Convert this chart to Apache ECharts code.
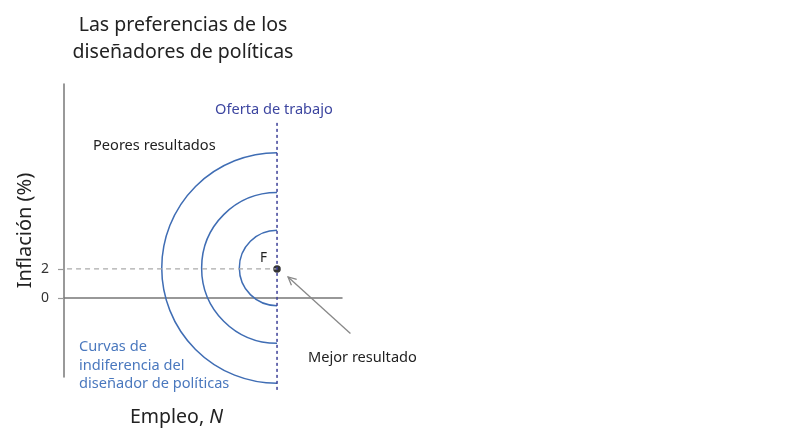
<!DOCTYPE html>
<html>
<head>
<meta charset="utf-8">
<script src="https://cdn.jsdelivr.net/npm/echarts@6/dist/echarts.min.js"></script>
<style>html,body{margin:0;padding:0;background:#fff}#c{width:810px;height:445px}</style>
</head>
<body>
<div id="c"></div>
<script>
// ---- data ----
const yTickValues = [0, 2];
const xRange = [0, 19.17];
const yRange = [-5.45, 14.75];
const fullEmployment = 14.69;      // labour supply position (F)
const targetInflation = 2;          // inflation target
const curveRadii = [2.6, 5.2, 7.95];
const supplyLine = [[14.69, 12.07], [14.69, -6.41]];
const targetLine = [[-0.41, 2], [14.69, 2]];
const pointF = [[14.69, 2]];
const arrowFrom = [19.75, -2.45];
const arrowTo = [15.45, 1.45];

const FONT = '"Noto Sans", "Open Sans", sans-serif';
const chart = echarts.init(document.getElementById('c'), null, {renderer: 'canvas'});

chart.setOption({
  animation: false,
  backgroundColor: '#fff',
  title: {
    text: 'Las preferencias de los\ndiseñadores de políticas',
    left: 178, top: 7, textAlign: 'center',
    textStyle: {fontFamily: FONT, fontSize: 19.5, fontWeight: 'normal', color: '#222', lineHeight: 27}
  },
  grid: {left: 64, top: 84, width: 278, height: 293},
  xAxis: {
    type: 'value', min: xRange[0], max: xRange[1],
    axisLine: {show: true, onZero: true, lineStyle: {color: '#777', width: 1.5}},
    axisTick: {show: false}, axisLabel: {show: false}, splitLine: {show: false}
  },
  yAxis: {
    type: 'value', min: yRange[0], max: yRange[1],
    name: 'Inflación (%)', nameLocation: 'middle', nameGap: 29,
    nameTextStyle: {fontFamily: FONT, fontSize: 20, color: '#222'},
    axisLine: {show: true, lineStyle: {color: '#777', width: 1.5}},
    axisTick: {show: true, length: 6, customValues: yTickValues, lineStyle: {color: '#999', width: 1.2}},
    axisLabel: {show: true, customValues: yTickValues, margin: 15, fontFamily: FONT, fontSize: 14, color: '#333'},
    splitLine: {show: false}
  },
  graphic: [
    {type: 'text', left: 215, top: 102, style: {text: 'Oferta de trabajo', fontFamily: FONT, fontSize: 14.6, fill: '#3d46a0'}},
    {type: 'text', left: 93, top: 138, style: {text: 'Peores resultados', fontFamily: FONT, fontSize: 14.6, fill: '#222'}},
    {type: 'text', left: 260, top: 251, style: {text: 'F', fontFamily: FONT, fontSize: 13.5, fill: '#222'}},
    {type: 'text', left: 308, top: 350, style: {text: 'Mejor resultado', fontFamily: FONT, fontSize: 14.6, fill: '#222'}},
    {type: 'text', left: 79, top: 338, style: {text: 'Curvas de\nindiferencia del\ndiseñador de políticas', fontFamily: FONT, fontSize: 14.6, lineHeight: 18.5, fill: '#4a78be'}},
    {type: 'text', left: 130, top: 407, style: {
      text: '{a|Empleo, }{b|N}',
      rich: {a: {fontFamily: FONT, fontSize: 19.5, fill: '#222'}, b: {fontFamily: FONT, fontSize: 19.5, fontStyle: 'italic', fill: '#222'}}
    }}
  ],
  series: [
    {
      type: 'line', data: targetLine, clip: false, symbol: 'none', silent: true,
      lineStyle: {color: '#aaa', width: 1.2, type: [5, 4]}
    },
    {
      type: 'custom', clip: false, silent: true,
      data: curveRadii.map(r => [fullEmployment, targetInflation, r]),
      renderItem: function (params, api) {
        const c = api.coord([api.value(0), api.value(1)]);
        const r = api.size([api.value(2), 0])[0];
        return {
          type: 'arc',
          shape: {cx: c[0], cy: c[1] - 1, r: r, startAngle: Math.PI / 2, endAngle: Math.PI * 3 / 2, clockwise: true},
          style: {fill: null, stroke: '#3f6db4', lineWidth: 1.5}
        };
      }
    },
    {
      type: 'line', data: supplyLine, clip: false, symbol: 'none', silent: true,
      lineStyle: {color: '#3c3f97', width: 1.5, type: [3, 3]}
    },
    {
      type: 'scatter', data: pointF, symbol: 'circle', symbolSize: 7.5, silent: true,
      itemStyle: {color: '#000'}
    },
    {
      type: 'custom', clip: false, silent: true,
      data: [[arrowFrom[0], arrowFrom[1], arrowTo[0], arrowTo[1]]],
      renderItem: function (params, api) {
        const a = api.coord([api.value(0), api.value(1)]);
        const b = api.coord([api.value(2), api.value(3)]);
        const ang = Math.atan2(b[1] - a[1], b[0] - a[0]);
        const L = 9, w = 0.45;
        const p1 = [b[0] - L * Math.cos(ang - w), b[1] - L * Math.sin(ang - w)];
        const p2 = [b[0] - L * Math.cos(ang + w), b[1] - L * Math.sin(ang + w)];
        return {
          type: 'group',
          children: [
            {type: 'line', shape: {x1: a[0], y1: a[1], x2: b[0], y2: b[1]}, style: {stroke: '#888', lineWidth: 1.3}},
            {type: 'polyline', shape: {points: [p1, b, p2]}, style: {stroke: '#888', fill: null, lineWidth: 1.3}}
          ]
        };
      }
    }
  ]
});
</script>
</body>
</html>
